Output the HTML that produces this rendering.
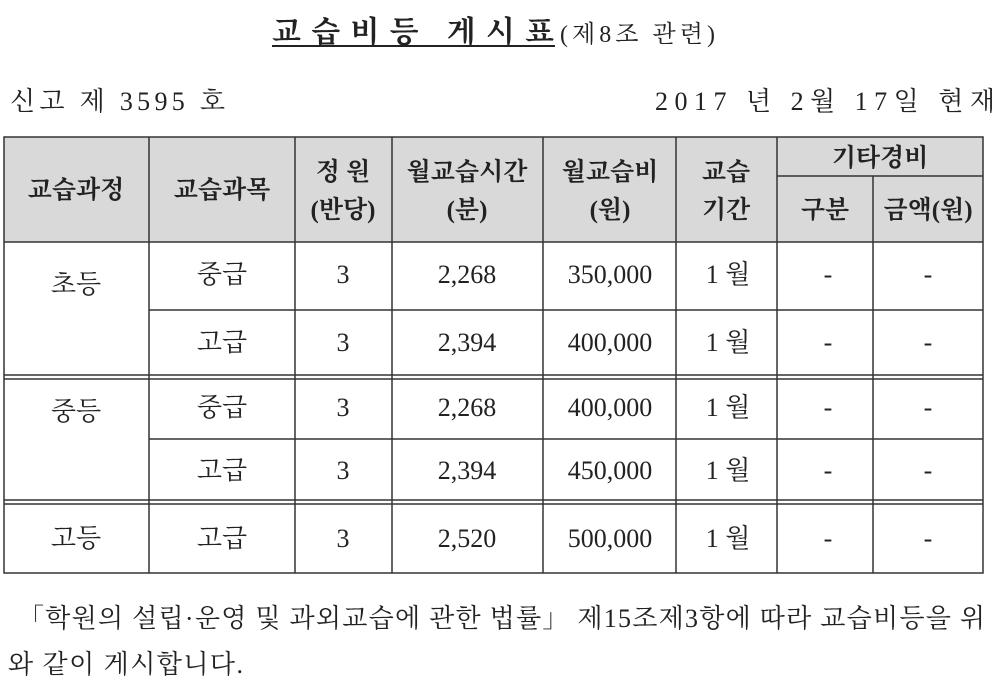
<!DOCTYPE html>
<html><head><meta charset="utf-8"><style>
html,body{margin:0;padding:0;background:#fff;}
svg{display:block;}
text{font-family:"Liberation Serif","Noto Serif CJK SC",serif;fill:#222;}
.h{font-weight:bold;font-size:25px;}
.b{font-size:26px;}
</style></head><body>
<svg width="1000" height="692" viewBox="0 0 1000 692">
<rect width="1000" height="692" fill="#fff"/>
<text x="272" y="42" style="font-size:30px;font-weight:bold" textLength="282">교습비등 게시표</text>
<line x1="272" y1="46" x2="555" y2="46" stroke="#222" stroke-width="2"/>
<text x="560" y="42" style="font-size:24px" textLength="155">(제8조 관련)</text>
<text x="10" y="110" class="b" textLength="215">신고 제 3595 호</text>
<text x="655" y="110" class="b" textLength="340">2017 년  2월    17일 현재</text>
<rect x="4" y="137" width="979" height="105" fill="#d9d9d9"/>
<g stroke="#333" stroke-width="1.5" fill="none">
<rect x="4" y="137" width="979" height="436"/>
<line x1="4" y1="242" x2="983" y2="242"/>
<line x1="777" y1="176" x2="983" y2="176"/>
<line x1="149" y1="310" x2="983" y2="310"/>
<line x1="4" y1="375" x2="983" y2="375"/><line x1="4" y1="379" x2="983" y2="379"/>
<line x1="149" y1="439" x2="983" y2="439"/>
<line x1="4" y1="500" x2="983" y2="500"/><line x1="4" y1="504" x2="983" y2="504"/>
<line x1="149" y1="137" x2="149" y2="573"/>
<line x1="295" y1="137" x2="295" y2="573"/>
<line x1="392" y1="137" x2="392" y2="573"/>
<line x1="543" y1="137" x2="543" y2="573"/>
<line x1="676" y1="137" x2="676" y2="573"/>
<line x1="777" y1="137" x2="777" y2="573"/>
<line x1="873" y1="176" x2="873" y2="573"/>
</g>
<g text-anchor="middle">
<text x="76" y="198" class="h">교습과정</text>
<text x="222" y="198" class="h">교습과목</text>
<text x="343" y="180" class="h">정 원</text>
<text x="343" y="218" class="h">(반당)</text>
<text x="467" y="180" class="h">월교습시간</text>
<text x="467" y="218" class="h">(분)</text>
<text x="610" y="180" class="h">월교습비</text>
<text x="610" y="218" class="h">(원)</text>
<text x="726" y="180" class="h">교습</text>
<text x="726" y="218" class="h">기간</text>
<text x="880" y="166" class="h">기타경비</text>
<text x="825" y="218" class="h">구분</text>
<text x="928" y="218" class="h">금액(원)</text>
<text x="76" y="293" class="b">초등</text>
<text x="76" y="420" class="b">중등</text>
<text x="76" y="547" class="b">고등</text>
</g>
<g text-anchor="middle">
<text x="222" y="283" class="b">중급</text><text x="343" y="283" class="b">3</text><text x="467" y="283" class="b">2,268</text><text x="610" y="283" class="b">350,000</text><text x="728" y="283" class="b">1  월</text><text x="828" y="283" class="b">-</text><text x="928" y="283" class="b">-</text>
<text x="222" y="351" class="b">고급</text><text x="343" y="351" class="b">3</text><text x="467" y="351" class="b">2,394</text><text x="610" y="351" class="b">400,000</text><text x="728" y="351" class="b">1  월</text><text x="828" y="351" class="b">-</text><text x="928" y="351" class="b">-</text>
<text x="222" y="416" class="b">중급</text><text x="343" y="416" class="b">3</text><text x="467" y="416" class="b">2,268</text><text x="610" y="416" class="b">400,000</text><text x="728" y="416" class="b">1  월</text><text x="828" y="416" class="b">-</text><text x="928" y="416" class="b">-</text>
<text x="222" y="479" class="b">고급</text><text x="343" y="479" class="b">3</text><text x="467" y="479" class="b">2,394</text><text x="610" y="479" class="b">450,000</text><text x="728" y="479" class="b">1  월</text><text x="828" y="479" class="b">-</text><text x="928" y="479" class="b">-</text>
<text x="222" y="547" class="b">고급</text><text x="343" y="547" class="b">3</text><text x="467" y="547" class="b">2,520</text><text x="610" y="547" class="b">500,000</text><text x="728" y="547" class="b">1  월</text><text x="828" y="547" class="b">-</text><text x="928" y="547" class="b">-</text>
</g>
<text x="18" y="627" class="b" textLength="967">「학원의 설립·운영 및 과외교습에 관한 법률」 제15조제3항에 따라 교습비등을 위</text>
<text x="8" y="673" class="b" textLength="235">와 같이 게시합니다.</text>
</svg>
</body></html>
